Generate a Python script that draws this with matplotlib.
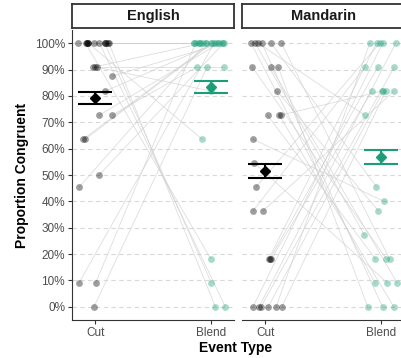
import numpy as np
import matplotlib.pyplot as plt

plt.rcParams['font.family'] = ['Liberation Sans', 'DejaVu Sans']

languages = ['English', 'Mandarin']
event_types = ['Cut', 'Blend']

# per-participant proportion congruent (%), paired by index: cut vs blend
english_cut = [100, 100, 100, 100, 100, 100, 100, 100, 100, 100, 100, 100, 100,
               90.9, 90.9, 90.9, 87.5, 81.8, 72.7, 72.7, 63.6, 63.6, 50, 45.5,
               9.1, 9.1, 0]
english_blend = [0, 0, 9.1, 18.2, 63.6, 100, 100, 100, 100, 100, 100, 100, 100,
                 100, 90.9, 81.8, 100, 100, 100, 90.9, 100, 100, 100, 100,
                 100, 100, 90.9]

mandarin_cut = [0, 0, 0, 0, 0, 0, 18.2, 18.2, 18.2, 36.4, 36.4, 45.5,
                100, 100, 100, 100, 100, 100, 90.9, 90.9, 90.9, 81.8,
                72.7, 72.7, 72.7, 63.6, 54.5]
mandarin_blend = [100, 100, 100, 90.9, 81.8, 81.8, 100, 90.9, 81.8, 90.9, 81.8, 100,
                  0, 9.1, 18.2, 27.3, 45.5, 72.7, 0, 9.1, 18.2, 36.4,
                  81.8, 0, 18.2, 40, 9.1]

# condition means and error-bar half widths (%)
english_mean = [79.1, 83.4]
english_err = [2.25, 2.2]
mandarin_mean = [51.5, 56.9]
mandarin_err = [2.65, 2.75]

colors = ['black', '#1b9e77']
dark = '#333333'

fig = plt.figure(figsize=(4.01, 3.58), dpi=100)
rng = np.random.default_rng(7)

panels = [
    (english_cut, english_blend, english_mean, english_err),
    (mandarin_cut, mandarin_blend, mandarin_mean, mandarin_err),
]
lefts = [72 / 401, 242 / 401]
w = 162 / 401

for i, (cut, blend, means, errs) in enumerate(panels):
    ax = fig.add_axes([lefts[i], 38 / 358, w, 290 / 358])
    cut = np.array(cut)
    blend = np.array(blend)
    xc = 1 + rng.uniform(-0.15, 0.15, len(cut))
    xb = 2 + rng.uniform(-0.15, 0.15, len(blend))

    for yv in np.arange(0, 101, 10):
        ax.axhline(yv, color='#d9d9d9', lw=0.8, ls=(0, (4, 3)), zorder=0)

    for j in range(len(cut)):
        ax.plot([xc[j], xb[j]], [cut[j], blend[j]], color='#cfcfcf',
                lw=0.6, alpha=0.7, zorder=1)

    ax.scatter(xc, cut, s=24, color=colors[0], alpha=0.38, lw=0, zorder=2)
    ax.scatter(xb, blend, s=24, color=colors[1], alpha=0.38, lw=0, zorder=2)

    for k in range(2):
        ax.errorbar(k + 1, means[k], yerr=errs[k], color=colors[k], lw=1.5,
                    capsize=12, capthick=1.5, zorder=3)
        ax.plot(k + 1, means[k], marker='D', ms=5, color=colors[k], zorder=4)

    ax.set_xlim(0.8, 2.2)
    ax.set_ylim(-5, 105)
    ax.set_xticks([1, 2])
    ax.set_xticklabels(event_types)
    ax.set_yticks(np.arange(0, 101, 10))
    ax.set_yticklabels([f'{v}%' for v in range(0, 101, 10)])
    ax.tick_params(colors=dark, labelcolor='#4d4d4d', labelsize=8.5,
                   length=3, width=0.8, pad=2)
    for side in ['top', 'right']:
        ax.spines[side].set_visible(False)
    ax.spines['bottom'].set_color(dark)
    ax.spines['left'].set_color(dark)
    if i == 1:
        ax.spines['left'].set_visible(False)
        ax.tick_params(axis='y', left=False, labelleft=False)

    strip = fig.add_axes([lefts[i], 330 / 358, w, 24 / 358])
    strip.set_xticks([])
    strip.set_yticks([])
    for s in strip.spines.values():
        s.set_color(dark)
        s.set_linewidth(1.3)
    strip.text(0.5, 0.5, languages[i], ha='center', va='center',
               fontsize=10.5, fontweight='bold', color='#1a1a1a')

fig.text(22 / 401, 1 - 175 / 358, 'Proportion Congruent', rotation=90,
         ha='center', va='center', fontsize=10, fontweight='bold')
fig.text(236 / 401, 1 - 348 / 358, 'Event Type', ha='center', va='center',
         fontsize=10, fontweight='bold')

fig.savefig('out.png', dpi=100)
